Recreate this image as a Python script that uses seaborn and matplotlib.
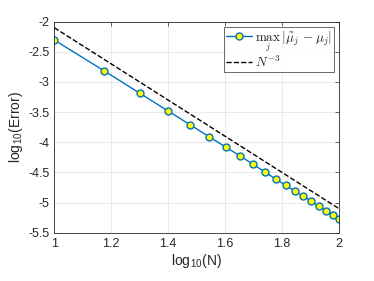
import matplotlib
matplotlib.use("Agg")
import matplotlib.pyplot as plt
import seaborn as sns
import pandas as pd
from matplotlib.ticker import FormatStrFormatter

# log10(N) for N = 10, 15, ..., 100 and the measured log10(error)
log_n = [1.0, 1.176, 1.301, 1.398, 1.477, 1.544, 1.602, 1.653, 1.699, 1.740,
         1.778, 1.813, 1.845, 1.875, 1.903, 1.929, 1.954, 1.978, 2.0]
log_err = [-2.304, -2.818, -3.189, -3.476, -3.709, -3.908, -4.079, -4.228, -4.366,
           -4.494, -4.610, -4.715, -4.809, -4.897, -4.980, -5.058, -5.135, -5.201, -5.268]

# reference slope N^-3
ref_x = [1.0, 2.0]
ref_y = [-2.1, -5.1]

x_ticks = [1, 1.2, 1.4, 1.6, 1.8, 2]
y_ticks = [-5.5, -5, -4.5, -4, -3.5, -3, -2.5, -2]

sns.set_style("white")
plt.rcParams['font.family'] = ['Liberation Sans', 'DejaVu Sans']
plt.rcParams['axes.unicode_minus'] = False
plt.rcParams['mathtext.fontset'] = 'cm'

df = pd.DataFrame({'logN': log_n, 'logErr': log_err})
ref = pd.DataFrame({'logN': ref_x, 'logErr': ref_y})

fig = plt.figure(figsize=(3.74, 2.81), dpi=100)
ax = fig.add_axes([0.145, 0.172, 0.761, 0.751])

sns.lineplot(data=df, x='logN', y='logErr', ax=ax, color='#0072BD', linewidth=1,
             marker='o', markersize=5, markerfacecolor='yellow',
             markeredgecolor='#0072BD', markeredgewidth=1,
             label=r'$\max_j\,|\tilde{\mu}_j-\mu_j|$')
sns.lineplot(data=ref, x='logN', y='logErr', ax=ax, color='black', linewidth=1,
             linestyle='--', label=r'$N^{-3}$')

ax.set_xlim(1, 2)
ax.set_ylim(-5.5, -2)
ax.set_xticks(x_ticks)
ax.set_yticks(y_ticks)
ax.xaxis.set_major_formatter(FormatStrFormatter('%g'))
ax.yaxis.set_major_formatter(FormatStrFormatter('%g'))
ax.tick_params(direction='in', length=3, width=0.5, labelsize=9, colors='#262626',
               top=True, right=True)
ax.grid(True, color='#e6e6e6', linewidth=0.6)
for s in ax.spines.values():
    s.set_color('#262626')
    s.set_linewidth(0.6)

ax.set_xlabel(r'log$_{\mathregular{10}}$(N)', fontsize=10, color='#262626', labelpad=2)
ax.set_ylabel(r'log$_{\mathregular{10}}$(Error)', fontsize=10, color='#262626', labelpad=2)

leg = ax.legend(loc='upper right', fontsize=9.5, frameon=True, fancybox=False,
                borderpad=0.15, handlelength=2.0, handletextpad=0.2,
                labelspacing=0.05, borderaxespad=0.4)
leg.get_frame().set_edgecolor('#262626')
leg.get_frame().set_linewidth(0.6)

fig.savefig('out.png', dpi=100)
